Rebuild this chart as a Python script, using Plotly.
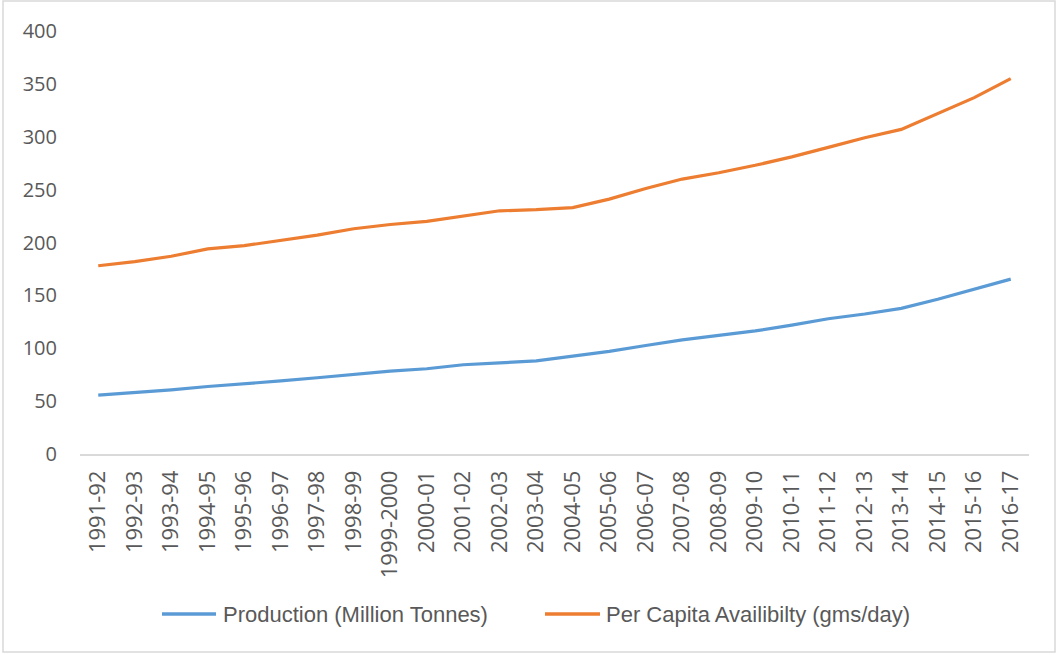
import plotly.graph_objects as go

years = ["1991-92", "1992-93", "1993-94", "1994-95", "1995-96", "1996-97", "1997-98",
         "1998-99", "1999-2000", "2000-01", "2001-02", "2002-03", "2003-04", "2004-05",
         "2005-06", "2006-07", "2007-08", "2008-09", "2009-10", "2010-11", "2011-12",
         "2012-13", "2013-14", "2014-15", "2015-16", "2016-17"]
production = [55.6, 58.0, 60.6, 63.8, 66.2, 69.1, 72.1, 75.4, 78.3, 80.6, 84.4, 86.2, 88.1,
              92.5, 97.1, 102.6, 107.9, 112.2, 116.4, 121.8, 127.9, 132.4, 137.7, 146.3,
              155.5, 165.4]
per_capita = [178, 182, 187, 194, 197, 202, 207, 213, 217, 220, 225, 230, 231, 233, 241,
              251, 260, 266, 273, 281, 290, 299, 307, 322, 337, 355]
y_ticks = [0, 50, 100, 150, 200, 250, 300, 350, 400]

series = [
    ("Production (Million Tonnes)", production, "#5B9BD5"),
    ("Per Capita Availibilty (gms/day)", per_capita, "#ED7D31"),
]

W, H = 1058, 655
L, R, T, B = 80, 29, 31, 201
pw, ph = W - L - R, H - T - B


def px_to_paper_x(px):
    return (px - L) / pw


def px_to_paper_y(py):
    return (H - B - py) / ph


fig = go.Figure()
for name, values, color in series:
    fig.add_trace(go.Scatter(x=years, y=values, mode="lines", name=name,
                             line=dict(color=color, width=3.2), showlegend=False))

# outer chart border
fig.add_shape(type="rect", xref="paper", yref="paper",
              x0=px_to_paper_x(3), x1=px_to_paper_x(1055),
              y0=px_to_paper_y(652), y1=px_to_paper_y(1),
              line=dict(color="#D9D9D9", width=1.5), fillcolor="rgba(0,0,0,0)",
              layer="below")

# legend drawn below the axis: swatch line + label per series
legend_y = px_to_paper_y(614)
legend_slots = [(162, 216, 221), (545, 600, 604)]
legend_font = dict(family="Liberation Sans, Arial, sans-serif", size=22, color="#595959")
for (name, _, color), (sx0, sx1, tx) in zip(series, legend_slots):
    fig.add_shape(type="line", xref="paper", yref="paper",
                  x0=px_to_paper_x(sx0), x1=px_to_paper_x(sx1), y0=legend_y, y1=legend_y,
                  line=dict(color=color, width=3.5))
    fig.add_annotation(text=name, xref="paper", yref="paper", x=px_to_paper_x(tx), y=legend_y,
                       xanchor="left", yanchor="middle", showarrow=False, font=legend_font)

fig.update_layout(
    width=W, height=H,
    margin=dict(l=L, r=R, t=T, b=B),
    paper_bgcolor="white", plot_bgcolor="white",
    showlegend=False,
    xaxis=dict(type="category", range=[-0.5, len(years) - 0.5], tickangle=-90,
               tickfont=dict(family="Open Sans, sans-serif", size=22, color="#595959"),
               showgrid=False, showline=True, linecolor="#D9D9D9",
               linewidth=1.5, ticks="", zeroline=False, ticklabelstandoff=6),
    yaxis=dict(range=[0, 400], tickvals=y_ticks,
               tickfont=dict(family="Open Sans, sans-serif", size=20, color="#595959"),
               showgrid=False, showline=False, zeroline=False, ticks="", ticklabelstandoff=22),
)

fig.write_html("out.html")
